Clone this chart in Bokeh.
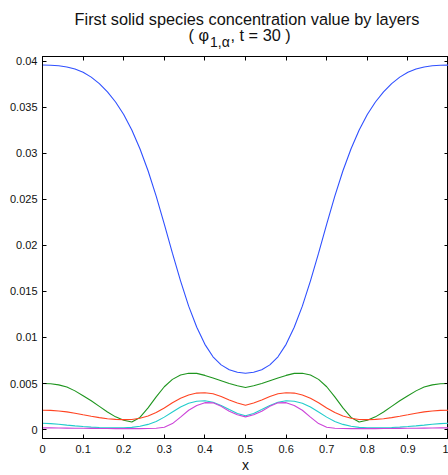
from bokeh.plotting import figure
from bokeh.layouts import column
from bokeh.models import Range1d, LinearAxis, FixedTicker, Label
from bokeh.embed import file_html
from bokeh.resources import INLINE
import numpy as np

# ---- data ----
x = np.linspace(0.0, 1.0, 51)

layer1 = [0.03957, 0.03955, 0.03949, 0.03936, 0.03914, 0.03878, 0.03826, 0.03756, 0.03666, 0.03556,
          0.03421, 0.03253, 0.03048, 0.02810, 0.02535, 0.02230, 0.01915, 0.01615, 0.01340, 0.01110,
          0.00925, 0.00790, 0.00702, 0.00650, 0.00622, 0.00612, 0.00622, 0.00650, 0.00702, 0.00790,
          0.00925, 0.01110, 0.01340, 0.01615, 0.01915, 0.02230, 0.02535, 0.02810, 0.03048, 0.03253,
          0.03421, 0.03556, 0.03666, 0.03756, 0.03826, 0.03878, 0.03914, 0.03936, 0.03949, 0.03955, 0.03957]
layer2 = [0.00500, 0.00497, 0.00485, 0.00462, 0.00420, 0.00368, 0.00313, 0.00252, 0.00190, 0.00138,
          0.00101, 0.00083, 0.00132, 0.00235, 0.00355, 0.00465, 0.00545, 0.00592, 0.00612, 0.00610,
          0.00588, 0.00560, 0.00530, 0.00500, 0.00475, 0.00457, 0.00475, 0.00500, 0.00530, 0.00560,
          0.00588, 0.00610, 0.00612, 0.00592, 0.00545, 0.00465, 0.00355, 0.00235, 0.00132, 0.00083,
          0.00101, 0.00138, 0.00190, 0.00252, 0.00313, 0.00368, 0.00420, 0.00462, 0.00485, 0.00497, 0.00500]
layer3 = [0.00210, 0.00208, 0.00202, 0.00192, 0.00178, 0.00160, 0.00144, 0.00130, 0.00118, 0.00111,
          0.00108, 0.00110, 0.00122, 0.00148, 0.00185, 0.00235, 0.00292, 0.00340, 0.00375, 0.00396,
          0.00400, 0.00388, 0.00358, 0.00320, 0.00288, 0.00264, 0.00288, 0.00320, 0.00358, 0.00388,
          0.00400, 0.00396, 0.00375, 0.00340, 0.00292, 0.00235, 0.00185, 0.00148, 0.00122, 0.00110,
          0.00108, 0.00111, 0.00118, 0.00130, 0.00144, 0.00160, 0.00178, 0.00192, 0.00202, 0.00208, 0.00210]
layer4 = [0.00068, 0.00065, 0.00058, 0.00048, 0.00040, 0.00033, 0.00027, 0.00022, 0.00019, 0.00018,
          0.00019, 0.00024, 0.00036, 0.00056, 0.00088, 0.00135, 0.00190, 0.00245, 0.00285, 0.00308,
          0.00312, 0.00296, 0.00262, 0.00218, 0.00175, 0.00149, 0.00175, 0.00218, 0.00262, 0.00296,
          0.00312, 0.00308, 0.00285, 0.00245, 0.00190, 0.00135, 0.00088, 0.00056, 0.00036, 0.00024,
          0.00019, 0.00018, 0.00019, 0.00022, 0.00027, 0.00033, 0.00040, 0.00048, 0.00058, 0.00065, 0.00068]
layer5 = [0.00018, 0.00018, 0.00017, 0.00016, 0.00015, 0.00014, 0.00013, 0.00012, 0.00011, 0.00010,
          0.00010, 0.00010, 0.00010, 0.00011, 0.00014, 0.00025, 0.00065, 0.00135, 0.00210, 0.00262,
          0.00292, 0.00290, 0.00252, 0.00198, 0.00160, 0.00138, 0.00160, 0.00198, 0.00252, 0.00290,
          0.00292, 0.00262, 0.00210, 0.00135, 0.00065, 0.00025, 0.00014, 0.00011, 0.00010, 0.00010,
          0.00010, 0.00010, 0.00011, 0.00012, 0.00013, 0.00014, 0.00015, 0.00016, 0.00017, 0.00018, 0.00018]

series = [layer1, layer2, layer3, layer4, layer5]
colors = ["#2f50ff", "#1e951e", "#ff4422", "#22cccc", "#cc44d8"]

x_ticks = [0, 0.1, 0.2, 0.3, 0.4, 0.5, 0.6, 0.7, 0.8, 0.9, 1]
x_tick_labels = ["0", "0.1", "0.2", "0.3", "0.4", "0.5", "0.6", "0.7", "0.8", "0.9", "1"]
y_ticks = [0, 0.005, 0.01, 0.015, 0.02, 0.025, 0.03, 0.035, 0.04]
y_tick_labels = ["0", "0.005", "0.01", "0.015", "0.02", "0.025", "0.03", "0.035", "0.04"]

title_line1 = "First solid species concentration value by layers"
title_pre = "( φ"
title_sub = "1,α"
title_post = ", t = 30 )"
x_label = "x"

FONT = "Liberation Sans"
TXT = "#111111"
Y0, Y1 = -0.00097, 0.0405

W, TOP_H, LEFT = 448, 56, 42

# ---- title strip (own small figure; its x data equal page pixels) ----
tfig = figure(width=W, height=TOP_H, output_backend="svg", toolbar_location=None,
              x_range=Range1d(LEFT, W), y_range=Range1d(TOP_H, 0),
              x_axis_location=None, y_axis_location=None,
              min_border_left=LEFT, min_border_right=0, min_border_top=0, min_border_bottom=0)
tfig.xgrid.visible = False
tfig.ygrid.visible = False
tfig.outline_line_color = None
tfig.background_fill_color = "white"
tfig.border_fill_color = "white"

tfig.add_layout(Label(x=246.5, y=18.5, text=title_line1, text_align="center",
                      text_baseline="alphabetic", text_font=FONT, text_font_size="16.3px",
                      text_color=TXT))
tfig.add_layout(Label(x=188, y=34, text=title_pre, text_align="left",
                      text_baseline="alphabetic", text_font=FONT, text_font_size="16.3px",
                      text_color=TXT))
tfig.add_layout(Label(x=209.5, y=41.5, text=title_sub, text_align="left",
                      text_baseline="alphabetic", text_font=FONT, text_font_size="14px",
                      text_color=TXT))
tfig.add_layout(Label(x=230, y=34, text=title_post, text_align="left",
                      text_baseline="alphabetic", text_font=FONT, text_font_size="16.3px",
                      text_color=TXT))

# ---- main plot ----
p = figure(width=W, height=475 - TOP_H, output_backend="svg", toolbar_location=None,
           x_range=Range1d(0, 1), y_range=Range1d(Y0, Y1),
           x_axis_location=None, y_axis_location=None,
           min_border_left=LEFT, min_border_right=0, min_border_top=0, min_border_bottom=35)
p.xgrid.visible = False
p.ygrid.visible = False
p.outline_line_color = "black"
p.outline_line_width = 1
p.background_fill_color = "white"
p.border_fill_color = "white"


def make_axis(labels, ticks, tick_labels, is_x):
    ax = LinearAxis(ticker=FixedTicker(ticks=ticks))
    ax.major_tick_in = 4
    ax.major_tick_out = 0
    ax.minor_tick_in = 0
    ax.minor_tick_out = 0
    ax.axis_line_color = "black"
    ax.major_tick_line_color = "black"
    if labels:
        ax.major_label_overrides = {t: l for t, l in zip(ticks, tick_labels)}
        ax.major_label_text_font = FONT
        ax.major_label_text_font_size = "11px"
        ax.major_label_text_color = TXT
        ax.major_label_standoff = 6 if is_x else 5
    else:
        ax.major_label_text_font_size = "0px"
        ax.major_label_text_color = None
        ax.major_label_standoff = 0
    return ax


bottom = make_axis(True, x_ticks, x_tick_labels, True)
bottom.axis_label = x_label
bottom.axis_label_text_font = FONT
bottom.axis_label_text_font_size = "14px"
bottom.axis_label_text_font_style = "normal"
bottom.axis_label_standoff = 1
bottom.axis_label_text_color = TXT
p.add_layout(bottom, "below")
p.add_layout(make_axis(True, y_ticks, y_tick_labels, False), "left")
p.add_layout(make_axis(False, x_ticks, x_tick_labels, True), "above")
p.add_layout(make_axis(False, y_ticks, y_tick_labels, False), "right")

for ys, c in zip(series, colors):
    p.line(x, ys, line_color=c, line_width=1.1)

layout = column(tfig, p, spacing=0)
open("out.html", "w").write(file_html(layout, INLINE))
